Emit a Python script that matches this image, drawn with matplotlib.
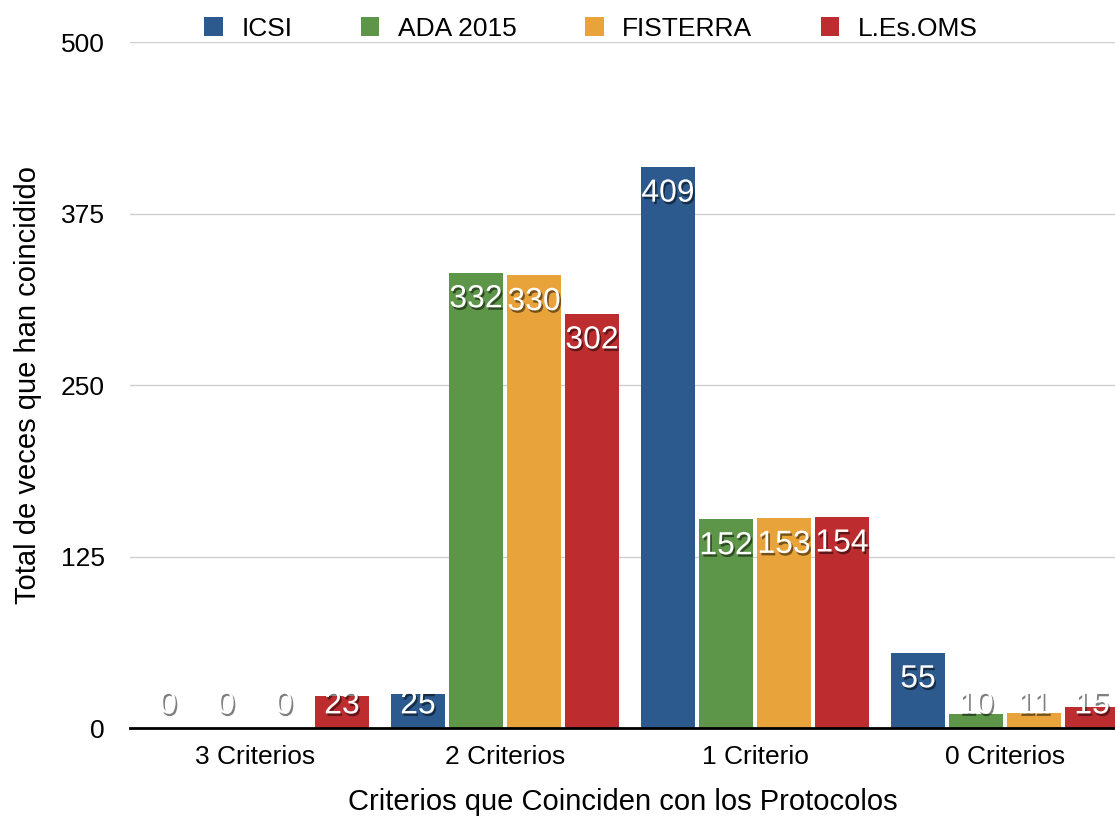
import matplotlib.pyplot as plt
import matplotlib.patheffects as pe
import numpy as np

plt.rcParams["font.family"] = ["Liberation Sans", "DejaVu Sans"]

categories = ["3 Criterios", "2 Criterios", "1 Criterio", "0 Criterios"]
series = ["ICSI", "ADA 2015", "FISTERRA", "L.Es.OMS"]
values = {
    "ICSI": [0, 25, 409, 55],
    "ADA 2015": [0, 332, 152, 10],
    "FISTERRA": [0, 330, 153, 11],
    "L.Es.OMS": [23, 302, 154, 15],
}
colors = ["#2d5a8e", "#5d9648", "#e8a33b", "#bd2d30"]

fig = plt.figure(figsize=(11.15, 8.19), dpi=100)
ax = fig.add_axes([0.1166, 0.1111, 0.8834, 0.8376])

x = np.arange(len(categories))
step = 0.232
width = 0.216
shadow = [pe.SimplePatchShadow(offset=(1.2, -1.8), shadow_rgbFace="black", alpha=0.5), pe.Normal()]

for i, (name, col) in enumerate(zip(series, colors)):
    pos = x + (i - 1.5) * step
    ax.bar(pos, values[name], width, color=col, label=name, zorder=3)
    for px, v in zip(pos, values[name]):
        ax.text(px, max(v - 19.5, 16.5), str(v), ha="center", va="center",
                color="white", fontsize=23, zorder=4, path_effects=shadow)

ax.set_xlim(-0.5, 3.44)
ax.set_ylim(0, 500)
ax.set_yticks([0, 125, 250, 375, 500])
ax.set_xticks(x)
ax.set_xticklabels(categories)
ax.tick_params(axis="both", length=0, labelsize=19)
ax.tick_params(axis="x", pad=12)
ax.tick_params(axis="y", pad=18)
ax.grid(axis="y", color="#cfcfcf", linewidth=1, zorder=0)
for s in ["top", "right", "left"]:
    ax.spines[s].set_visible(False)
ax.spines["bottom"].set_linewidth(2)
ax.spines["bottom"].set_color("black")
ax.spines["bottom"].set_zorder(5)

ax.set_xlabel("Criterios que Coinciden con los Protocolos", fontsize=21, labelpad=14)
ax.set_ylabel("Total de veces que han coincidido", fontsize=21, labelpad=14)

ax.legend(loc="lower center", bbox_to_anchor=(0.468, 0.967), ncol=4, frameon=False,
          fontsize=19, handlelength=0.7, handleheight=0.7, columnspacing=2.6,
          handletextpad=0.7)

fig.savefig("out.png", dpi=100)
